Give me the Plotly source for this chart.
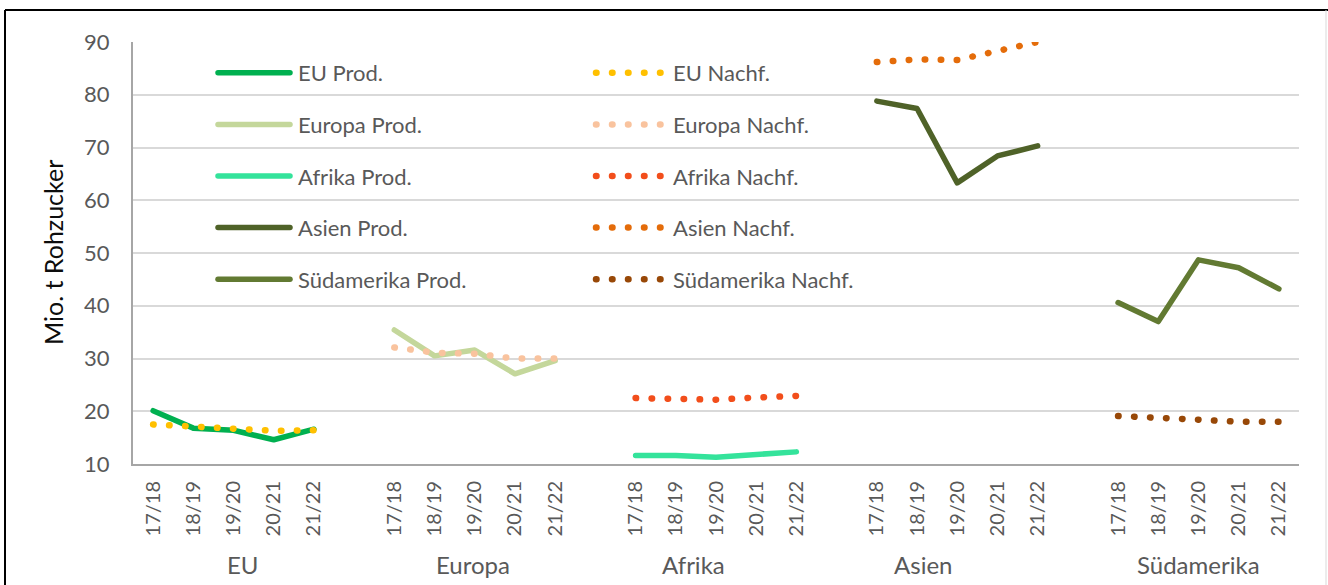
import plotly.graph_objects as go

# ---------------- data ----------------
regions = ["EU", "Europa", "Afrika", "Asien", "Südamerika"]
seasons = ["17/18", "18/19", "19/20", "20/21", "21/22"]

prod_eu = [20.1, 16.8, 16.4, 14.6, 16.6]
prod_europa = [35.4, 30.5, 31.6, 27.1, 29.6]
prod_afrika = [11.6, 11.6, 11.3, 11.7, 12.3]
prod_asien = [78.8, 77.4, 63.3, 68.4, 70.3]
prod_suedamerika = [40.6, 37.0, 48.7, 47.2, 43.2]

nachf_eu = [17.5, 17.0, 16.7, 16.3, 16.4]
nachf_europa = [32.1, 31.1, 30.9, 30.0, 30.0]
nachf_afrika = [22.5, 22.5, 22.2, 22.6, 22.9]
nachf_asien = [86.2, 86.7, 86.6, 88.4, 90.0]
nachf_suedamerika = [19.1, 18.6, 18.4, 18.0, 18.0]

prod_series = [prod_eu, prod_europa, prod_afrika, prod_asien, prod_suedamerika]
nachf_series = [nachf_eu, nachf_europa, nachf_afrika, nachf_asien, nachf_suedamerika]

# ---------------- style ----------------
prod_colors = ["#00B050", "#C4D79B", "#34E39B", "#4F6228", "#627A32"]
nachf_colors = ["#FFC000", "#F9C39E", "#F24E1B", "#E46C0A", "#984807"]
group_label_offset = [2.24, 1.95, 1.44, 1.15, 1.99]  # label centre offset within group

FONT = "Lato"
GREY = "#595959"
step = len(seasons) + 1  # one blank category between regions

fig = go.Figure()

def xpos(g):
    return [g * step + i for i in range(len(seasons))]

for g, (reg, vals) in enumerate(zip(regions, prod_series)):
    fig.add_trace(go.Scatter(
        x=xpos(g), y=vals, mode="lines", name=f"{reg} Prod.",
        line=dict(color=prod_colors[g], width=5.5),
        legend="legend", legendgroup=f"p{g}",
        hovertemplate=reg + " %{text}: %{y}<extra></extra>", text=seasons,
    ))

for g, (reg, vals) in enumerate(zip(regions, nachf_series)):
    fig.add_trace(go.Scatter(
        x=xpos(g), y=vals, mode="lines", name=f"{reg} Nachf.",
        line=dict(color=nachf_colors[g], width=6.5, dash="0.5px,15.5px"),
        legend="legend2", legendgroup=f"n{g}",
        hovertemplate=reg + " %{text}: %{y}<extra></extra>", text=seasons,
    ))

tickvals, ticktext = [], []
for g in range(len(regions)):
    tickvals += xpos(g)
    ticktext += seasons

n_cat = len(regions) * step - 1

annotations = []
for g, reg in enumerate(regions):
    annotations.append(dict(
        x=g * step + group_label_offset[g], y=-0.239, xref="x", yref="paper",
        text=reg, showarrow=False, xanchor="center", yanchor="middle",
        font=dict(family=FONT, size=24, color=GREY),
    ))
annotations.append(dict(
    x=-0.0686, y=0.5, xref="paper", yref="paper", text="Mio. t Rohzucker",
    showarrow=False, textangle=-90, xanchor="center", yanchor="middle",
    font=dict(family=FONT, size=25, color="#0D0D0D"),
))

# chart frame
L, T, R = 5, 10, 1326
PW, PH, ML, MT = 1166, 422, 133, 42
def px2x(p):
    return (p - ML) / PW
def py2y(p):
    return (MT + PH - p) / PH
shapes = [
    dict(type="line", xref="paper", yref="paper", x0=px2x(L), x1=px2x(1328), y0=py2y(T), y1=py2y(T),
         line=dict(color="#000000", width=2)),
    dict(type="line", xref="paper", yref="paper", x0=px2x(L), x1=px2x(L), y0=py2y(T), y1=py2y(600),
         line=dict(color="#000000", width=2)),
    dict(type="line", xref="paper", yref="paper", x0=px2x(R), x1=px2x(R), y0=py2y(T), y1=py2y(600),
         line=dict(color="#D9D9D9", width=1)),
]

legend_common = dict(
    orientation="v", bgcolor="rgba(0,0,0,0)", borderwidth=0,
    font=dict(family=FONT, size=22, color=GREY),
    itemwidth=80, tracegroupgap=20, xanchor="left", yanchor="top",
    itemclick=False, itemdoubleclick=False,
)

fig.update_layout(
    width=1328, height=585, autosize=False,
    margin=dict(l=ML, r=1328 - ML - PW, t=MT, b=585 - MT - PH),
    paper_bgcolor="white", plot_bgcolor="white",
    font=dict(family=FONT, color=GREY),
    showlegend=True,
    legend=dict(x=px2x(208), y=py2y(52), **legend_common),
    legend2=dict(x=px2x(583), y=py2y(52), **legend_common),
    xaxis=dict(
        range=[-0.5, n_cat - 0.5], tickmode="array", tickvals=tickvals, ticktext=ticktext,
        tickangle=-90, tickfont=dict(family=FONT, size=20, color=GREY),
        showgrid=False, zeroline=False, showline=True, linecolor="#A6A6A6", linewidth=2,
        ticks="", ticklabelstandoff=7, fixedrange=True,
    ),
    yaxis=dict(
        range=[10, 90], dtick=10, tick0=10,
        tickfont=dict(family=FONT, size=22, color=GREY),
        showgrid=True, gridcolor="#D9D9D9", gridwidth=2,
        zeroline=False, showline=True, linecolor="#A6A6A6", linewidth=2,
        ticks="", ticklabelstandoff=17, fixedrange=True,
    ),
    annotations=annotations,
    shapes=shapes,
)

post = """
document.body.style.margin='0';
var gd = document.getElementById('{plot_id}');
gd.querySelectorAll('.legendlines path').forEach(function(p){
  var da = window.getComputedStyle(p).strokeDasharray;
  if (da && da !== 'none') { p.setAttribute('d','M13,0h66'); }
  else { p.setAttribute('d','M10,0h72'); }
});
gd.querySelectorAll('path.js-line').forEach(function(p){p.style.strokeLinecap='round'; p.style.strokeLinejoin='round';});
"""

fig.write_html("out.html", post_script=post, config={"displayModeBar": False})
